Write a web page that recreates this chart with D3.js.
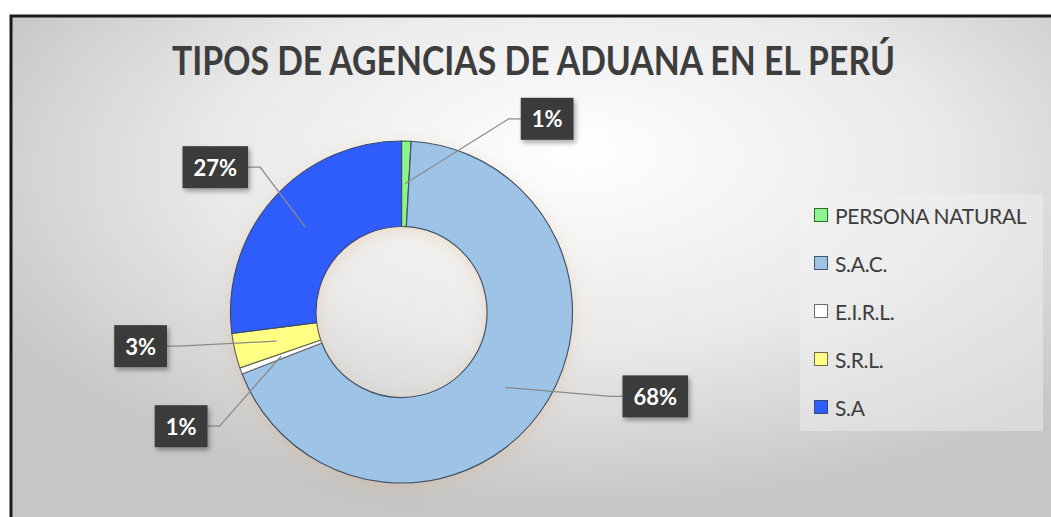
<!DOCTYPE html>
<html>
<head>
<meta charset="utf-8">
<script src="https://cdn.jsdelivr.net/npm/d3@7"></script>
<style>
    body { margin: 0; background: #ffffff; }
    svg { display: block; }
</style>
</head>
<body>
<svg id="donutSvg" width="1051" height="517"></svg>
<script>
// @ts-check
var titleText = "TIPOS DE AGENCIAS DE ADUANA EN EL PERÚ";
var categories = ["PERSONA NATURAL", "S.A.C.", "E.I.R.L.", "S.R.L.", "S.A"];
var shares = [0.9, 68.2, 0.6, 3.3, 27.0];

{
    var width = 1051, height = 517;
    var center = {x: 401.5, y: 312};
    var outerR = 171, innerR = 85.5;

    var palette = {
        fill: ["#8ef28e", "#9dc3e6", "#ffffff", "#ffff84", "#2f5dfb"],
        stroke: ["#2b6b2b", "#44546a", "#6b6b6b", "#6b6b50", "#3a4a78"],
        text: "#3d3d3d",
        labelBox: "#3b3b3b",
        leader: "#8a8a8a"
    };

    // where each callout sits relative to its slice anchor (Excel puts these by hand)
    var calloutShift = [[142, -65], [150, 9], [-100, 70], [-136, 5], [-90, -60]];

    var svg = d3.select("#donutSvg");
    var defs = svg.append("defs");

    var bg = defs.append("radialGradient")
        .attr("id", "bgGrad")
        .attr("cx", 0.53).attr("cy", 0.3).attr("r", 0.62)
        .attr("fx", 0.53).attr("fy", 0.25);
    bg.append("stop").attr("offset", "0%").attr("stop-color", "#ffffff");
    bg.append("stop").attr("offset", "55%").attr("stop-color", "#e9e9e9");
    bg.append("stop").attr("offset", "100%").attr("stop-color", "#c6c6c6");

    var shadow = defs.append("filter").attr("id", "boxShadow")
        .attr("x", "-30%").attr("y", "-30%").attr("width", "160%").attr("height", "170%");
    shadow.append("feDropShadow")
        .attr("dx", 2).attr("dy", 3).attr("stdDeviation", 2.5)
        .attr("flood-color", "#000").attr("flood-opacity", 0.35);

    var glow = defs.append("filter").attr("id", "donutGlow")
        .attr("x", "-20%").attr("y", "-20%").attr("width", "140%").attr("height", "140%");
    glow.append("feDropShadow")
        .attr("dx", 0).attr("dy", 4).attr("stdDeviation", 9)
        .attr("flood-color", "#d9a066").attr("flood-opacity", 0.28);

    /**
     * Chart area with its black frame
     */
    svg.append("rect")
        .attr("x", 11).attr("y", 16)
        .attr("width", width + 20).attr("height", height + 20)
        .attr("fill", "url(#bgGrad)")
        .attr("stroke", "#1a1a1a")
        .attr("stroke-width", 3);

    svg.append("text")
        .attr("x", 172).attr("y", 75)
        .attr("textLength", 723)
        .attr("lengthAdjust", "spacingAndGlyphs")
        .attr("font-family", "Lato, 'Open Sans', sans-serif")
        .attr("font-weight", 700)
        .attr("font-size", 40)
        .attr("fill", palette.text)
        .text(titleText);

    /**
     * Donut
     */
    var data = categories.map((c, i) => ({name: c, value: shares[i], i: i}));
    var pie = d3.pie().value(d => d.value).sort(null);
    var arcs = pie(data);
    var arc = d3.arc().innerRadius(innerR).outerRadius(outerR);
    var midArc = d3.arc().innerRadius((innerR + outerR) / 2).outerRadius((innerR + outerR) / 2);

    var g = svg.append("g").attr("transform", `translate(${center.x},${center.y})`);

    g.append("g")
        .attr("filter", "url(#donutGlow)")
        .selectAll("path")
        .data(arcs)
        .enter()
        .append("path")
        .attr("d", arc)
        .attr("fill", d => palette.fill[d.data.i])
        .attr("stroke", d => palette.stroke[d.data.i])
        .attr("stroke-width", 1.2)
        .attr("stroke-linejoin", "round");

    /**
     * Callouts with leader lines
     */
    var callouts = g.append("g");
    arcs.forEach(d => {
        var [ax, ay] = midArc.centroid(d);
        var [sx, sy] = calloutShift[d.data.i];
        var cx = ax + sx, cy = ay + sy;

        var grp = callouts.append("g");
        var label = grp.append("text")
            .attr("x", cx).attr("y", cy)
            .attr("text-anchor", "middle")
            .attr("dominant-baseline", "central")
            .attr("font-family", "Lato, 'Open Sans', sans-serif")
            .attr("font-weight", 700)
            .attr("font-size", 22)
            .attr("fill", "#ffffff")
            .text(`${Math.round(d.data.value)}%`);

        var w = label.node().getComputedTextLength() + 22;
        var h = 42;
        var side = sx > 0 ? cx - w / 2 : cx + w / 2;
        var elbow = side + (sx > 0 ? -12 : 12);

        grp.insert("path", "text")
            .attr("d", d3.line()([[ax, ay], [elbow, cy], [side, cy]]))
            .attr("fill", "none")
            .attr("stroke", palette.leader)
            .attr("stroke-width", 1.3);

        grp.insert("rect", "text")
            .attr("x", cx - w / 2).attr("y", cy - h / 2)
            .attr("width", w).attr("height", h)
            .attr("fill", palette.labelBox)
            .attr("filter", "url(#boxShadow)");
    });

    /**
     * Legend
     */
    var legendY = d3.scalePoint().domain(categories).range([215, 407]);

    svg.append("rect")
        .attr("x", 800).attr("y", 194)
        .attr("width", 243).attr("height", 237)
        .attr("fill", "#f2f2f2")
        .attr("fill-opacity", 0.45);

    var legend = svg.append("g")
        .selectAll("g")
        .data(data)
        .enter()
        .append("g")
        .attr("transform", d => `translate(814,${legendY(d.name)})`);

    legend.append("rect")
        .attr("x", 0.5).attr("y", -6.5)
        .attr("width", 13).attr("height", 13)
        .attr("fill", d => palette.fill[d.i])
        .attr("stroke", d => palette.stroke[d.i])
        .attr("stroke-width", 1);

    legend.append("text")
        .attr("x", 21).attr("y", 0)
        .attr("dominant-baseline", "central")
        .attr("font-family", "Lato, 'Open Sans', sans-serif")
        .attr("font-size", 21)
        .attr("letter-spacing", -0.3)
        .attr("fill", palette.text)
        .text(d => d.name);
}
</script>
</body>
</html>
